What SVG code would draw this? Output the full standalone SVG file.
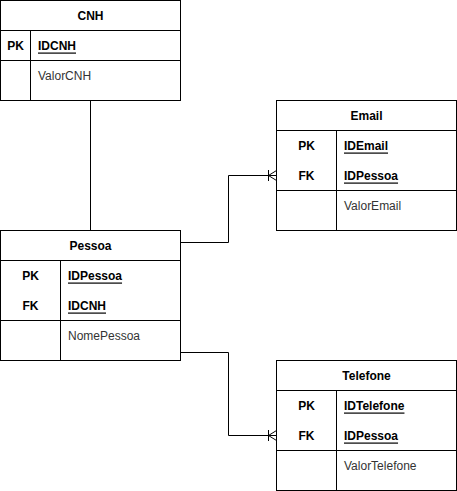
<svg xmlns="http://www.w3.org/2000/svg" width="457" height="491" viewBox="0 0 457 491">
<style>
  rect, line.sep { fill: #ffffff; stroke: #000000; stroke-width: 1; }
  line { stroke: #000000; stroke-width: 1; }
  text { font-family: "Liberation Sans", Arial, sans-serif; font-size: 12px; fill: #000000; dominant-baseline: central; }
  .hdr { font-weight: bold; text-anchor: middle; }
  .key { font-weight: bold; text-anchor: middle; }
  .kname { font-weight: bold; text-decoration: underline; }
  .attr { fill: #333333; }
  .conn { fill: none; stroke: #000000; stroke-width: 1; }
</style>
<rect x="-10" y="-10" width="480" height="510" style="stroke:none;fill:#ffffff"/>
<g id="connectors">
  <line x1="90.5" y1="100.5" x2="90.5" y2="230.5"/>
  <polyline class="conn" points="180.5,242.5 228.5,242.5 228.5,175.5 276.5,175.5"/>
  <line x1="268.5" y1="170" x2="268.5" y2="181"/>
  <line x1="268.5" y1="175.5" x2="276.5" y2="170.5"/>
  <line x1="268.5" y1="175.5" x2="276.5" y2="180.5"/>
  <polyline class="conn" points="180.5,352.5 228.5,352.5 228.5,435.5 276.5,435.5"/>
  <line x1="268.5" y1="430" x2="268.5" y2="441"/>
  <line x1="268.5" y1="435.5" x2="276.5" y2="430.5"/>
  <line x1="268.5" y1="435.5" x2="276.5" y2="440.5"/>
</g>
<g id="CNH">
  <rect x="0.5" y="0.5" width="180" height="100"/>
  <line x1="0.5" y1="30.5" x2="180.5" y2="30.5"/>
  <line x1="0.5" y1="60.5" x2="180.5" y2="60.5"/>
  <line x1="30.5" y1="30.5" x2="30.5" y2="100.5"/>
  <text class="hdr" x="90.5" y="15.5">CNH</text>
  <text class="key" x="15.5" y="45.5">PK</text>
  <text class="kname" x="38" y="45.5">IDCNH</text>
  <text class="attr" x="38" y="75.5">ValorCNH</text>
</g>
<g id="Pessoa">
  <rect x="0.5" y="230.5" width="180" height="130"/>
  <line x1="0.5" y1="260.5" x2="180.5" y2="260.5"/>
  <line x1="0.5" y1="320.5" x2="180.5" y2="320.5"/>
  <line x1="60.5" y1="260.5" x2="60.5" y2="360.5"/>
  <text class="hdr" x="90.5" y="245.5">Pessoa</text>
  <text class="key" x="30.5" y="275.5">PK</text>
  <text class="kname" x="68" y="275.5">IDPessoa</text>
  <text class="key" x="30.5" y="305.5">FK</text>
  <text class="kname" x="68" y="305.5">IDCNH</text>
  <text class="attr" x="68" y="335.5">NomePessoa</text>
</g>
<g id="Email">
  <rect x="276.5" y="100.5" width="180" height="130"/>
  <line x1="276.5" y1="130.5" x2="456.5" y2="130.5"/>
  <line x1="276.5" y1="190.5" x2="456.5" y2="190.5"/>
  <line x1="336.5" y1="130.5" x2="336.5" y2="230.5"/>
  <text class="hdr" x="366.5" y="115.5">Email</text>
  <text class="key" x="306.5" y="145.5">PK</text>
  <text class="kname" x="344" y="145.5">IDEmail</text>
  <text class="key" x="306.5" y="175.5">FK</text>
  <text class="kname" x="344" y="175.5">IDPessoa</text>
  <text class="attr" x="344" y="205.5">ValorEmail</text>
</g>
<g id="Telefone">
  <rect x="276.5" y="360.5" width="180" height="130"/>
  <line x1="276.5" y1="390.5" x2="456.5" y2="390.5"/>
  <line x1="276.5" y1="450.5" x2="456.5" y2="450.5"/>
  <line x1="336.5" y1="390.5" x2="336.5" y2="490.5"/>
  <text class="hdr" x="366.5" y="375.5">Telefone</text>
  <text class="key" x="306.5" y="405.5">PK</text>
  <text class="kname" x="344" y="405.5">IDTelefone</text>
  <text class="key" x="306.5" y="435.5">FK</text>
  <text class="kname" x="344" y="435.5">IDPessoa</text>
  <text class="attr" x="344" y="465.5">ValorTelefone</text>
</g>
</svg>
